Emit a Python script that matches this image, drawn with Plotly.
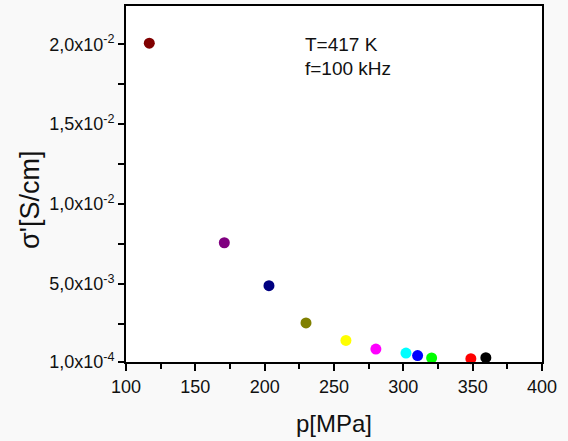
import plotly.graph_objects as go

pressure = [116.8, 170.9, 203.1, 229.8, 258.6, 280.2, 301.9, 310.3, 320.4, 348.7, 359.5]
sigma = [20.07e-3, 7.57e-3, 4.88e-3, 2.55e-3, 1.45e-3, 0.91e-3, 0.66e-3, 0.50e-3, 0.35e-3, 0.31e-3, 0.37e-3]
colors = ["#800000", "#800080", "#000080", "#808000", "#ffff00", "#ff00ff",
          "#00ffff", "#0000ff", "#00ff00", "#ff0000", "#000000"]

x_ticks = [100, 150, 200, 250, 300, 350, 400]
y_tickvals = [1e-4, 5e-3, 1e-2, 1.5e-2, 2e-2]
y_ticktext = ["1,0x10<sup>-4</sup>", "5,0x10<sup>-3</sup>", "1,0x10<sup>-2</sup>",
              "1,5x10<sup>-2</sup>", "2,0x10<sup>-2</sup>"]
notes = ["T=417 K", "f=100 kHz"]
y_title = "σ'[S/cm]"
x_title = "p[MPa]"

fig = go.Figure()
fig.add_trace(go.Scatter(
    x=pressure, y=sigma, mode="markers",
    marker=dict(color=colors, size=11, line=dict(width=0)),
    showlegend=False, cliponaxis=False,
))

font_main = "Liberation Sans, Arial, sans-serif"

fig.update_layout(
    width=568, height=441,
    margin=dict(l=126, r=26, t=4, b=79),
    paper_bgcolor="#f9f9f9", plot_bgcolor="#ffffff",
    font=dict(family=font_main, color="#111111", size=17),
    xaxis=dict(
        range=[100, 400], tickvals=x_ticks, ticktext=[str(v) for v in x_ticks],
        showgrid=False, zeroline=False,
        showline=True, linecolor="black", linewidth=2, mirror=True,
        ticks="outside", ticklen=7, tickwidth=2, tickcolor="black",
        minor=dict(ticks="outside", ticklen=5, tickwidth=2, tickcolor="black", dtick=25, tick0=0),
        tickfont=dict(size=18),
        title=dict(text=x_title, font=dict(size=24), standoff=20),
    ),
    yaxis=dict(
        range=[1e-4, 2.24e-2], tickvals=y_tickvals, ticktext=y_ticktext,
        showgrid=False, zeroline=False,
        showline=True, linecolor="black", linewidth=2, mirror=True,
        ticks="outside", ticklen=6, tickwidth=2, tickcolor="black",
        minor=dict(ticks="outside", ticklen=6, tickwidth=2, tickcolor="black", dtick=2.5e-3, tick0=0),
        tickfont=dict(size=18),
    ),
)
fig.add_annotation(text=y_title, xref="paper", yref="paper",
                   x=(30 - 126) / 416, y=(362 - 199) / 358,
                   xanchor="center", yanchor="middle", textangle=-90,
                   showarrow=False, font=dict(size=27, color="#111111"))
for i, t in enumerate(notes):
    fig.add_annotation(text=t, xref="paper", yref="paper",
                       x=(303 - 126) / 416, y=(362 - 42.5 - 24.5 * i) / 358,
                       xanchor="left", yanchor="middle",
                       align="left", showarrow=False, font=dict(size=19, color="#111111"))

fig.write_html("out.html", config={"displayModeBar": False},
               post_script="document.body.style.margin='0px';")
